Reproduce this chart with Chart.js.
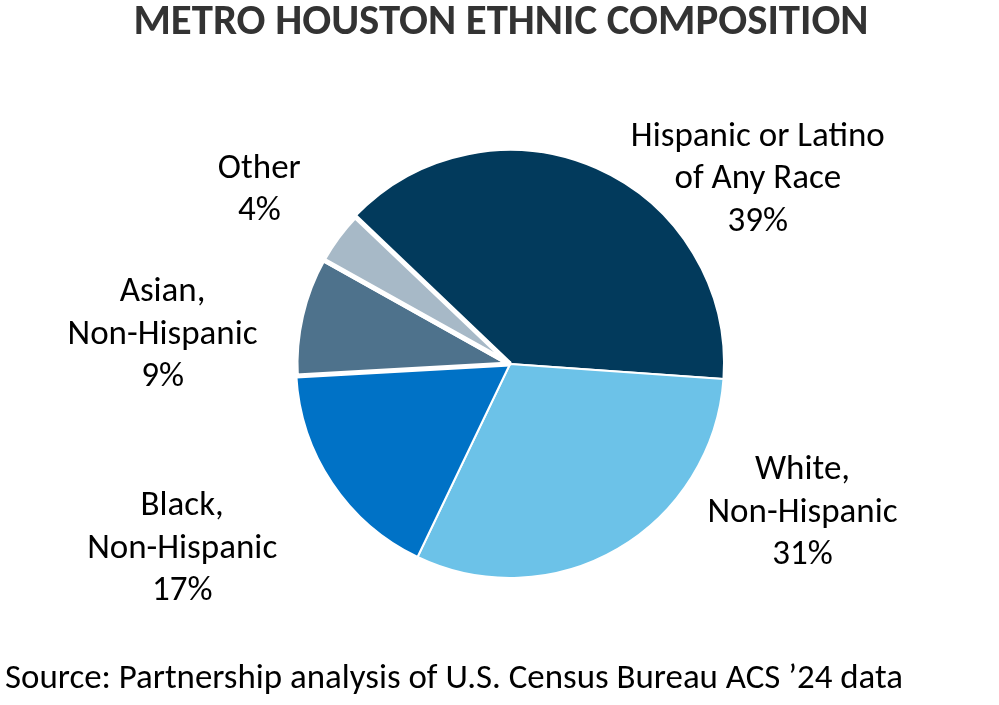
<!DOCTYPE html>
<html>
<head>
<meta charset="utf-8">
<script src="https://cdn.jsdelivr.net/npm/chart.js@4.4.1/dist/chart.umd.min.js"></script>
<style>
  html, body { margin: 0; padding: 0; background: #fff; }
  #wrap { width: 999px; height: 705px; }
</style>
</head>
<body>
<div id="wrap"><canvas id="pie" width="999" height="705"></canvas></div>
<script>
const categories = [
    ['Hispanic or Latino', 'of Any Race'],
    ['White,', 'Non-Hispanic'],
    ['Black,', 'Non-Hispanic'],
    ['Asian,', 'Non-Hispanic'],
    ['Other']
];
const shares = [39, 31, 17, 9, 4];
const sliceColors = ['#023A5C', '#6CC2E8', '#0072C6', '#4E728C', '#A7B9C7'];
const sliceBorders = [2, 2, 2, 5, 5];

const titleText = 'METRO HOUSTON ETHNIC COMPOSITION';
const sourceText = 'Source: Partnership analysis of U.S. Census Bureau ACS \u201924 data';

const fontFamily = 'Carlito, Calibri, Lato, sans-serif';

// where each label sits: turn away from the slice mid-angle (deg), distance in radii
const labelPlace = [[29.2, 1.45], [-33.1, 1.53], [4.6, 1.755], [-7.9, 1.63], [-1.4, 1.43]];

const textPlugin = {
    id: 'textPlugin',
    afterDraw(chart) {
        const ctx = chart.ctx;
        const meta = chart.getDatasetMeta(0);
        ctx.save();

        // title
        ctx.fillStyle = '#333333';
        ctx.font = 'bold 42.8px ' + fontFamily;
        ctx.textAlign = 'center';
        ctx.textBaseline = 'middle';
        ctx.fillText(titleText, 501, 23);

        // slice labels
        ctx.fillStyle = '#000000';
        ctx.font = '35px ' + fontFamily;
        const lineH = 42.5;
        meta.data.forEach((arc, i) => {
            const p = arc.getProps(['x', 'y', 'startAngle', 'endAngle', 'outerRadius'], true);
            const mid = (p.startAngle + p.endAngle) / 2 + labelPlace[i][0] * Math.PI / 180;
            const d = p.outerRadius * labelPlace[i][1];
            const cx = p.x + Math.cos(mid) * d;
            const cy = p.y + Math.sin(mid) * d + 2;
            const lines = categories[i].concat([shares[i] + '%']);
            const top = cy - (lines.length - 1) * lineH / 2;
            lines.forEach((t, k) => ctx.fillText(t, cx, top + k * lineH));
        });

        // source
        ctx.textAlign = 'left';
        ctx.font = '34.9px ' + fontFamily;
        ctx.fillText(sourceText, 5, 679);
        ctx.restore();
    }
};

new Chart(document.getElementById('pie').getContext('2d'), {
    type: 'pie',
    data: {
        labels: categories,
        datasets: [{
            data: shares,
            backgroundColor: sliceColors,
            borderColor: '#ffffff',
            borderWidth: sliceBorders,
            radius: 214
        }]
    },
    options: {
        responsive: false,
        animation: false,
        rotation: -46.4,
        layout: { padding: { top: 73, bottom: 50, left: 21, right: 0 } },
        plugins: {
            legend: { display: false },
            tooltip: { enabled: false },
            title: { display: false }
        }
    },
    plugins: [textPlugin]
});
</script>
</body>
</html>
